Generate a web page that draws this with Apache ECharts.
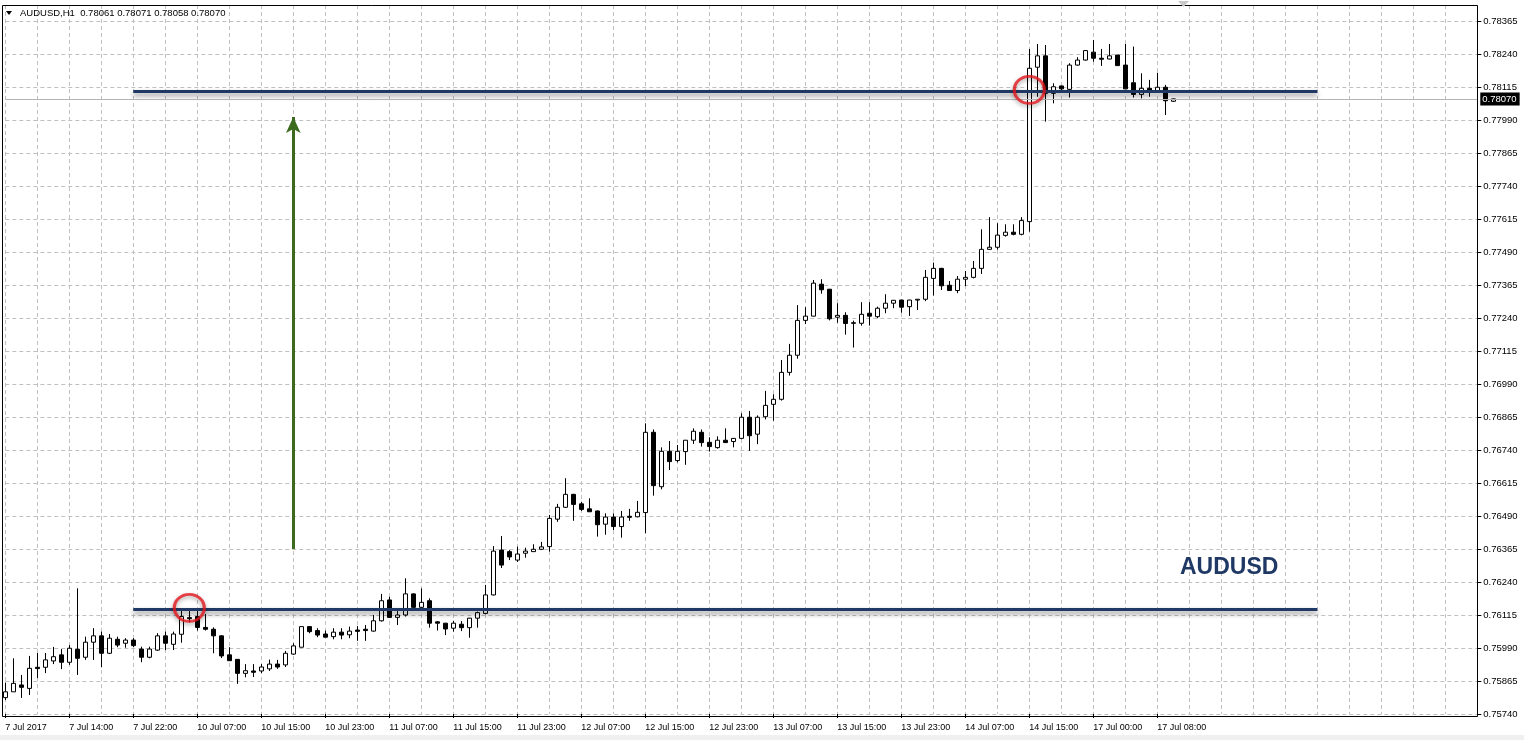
<!DOCTYPE html>
<html><head><meta charset="utf-8">
<script src="https://cdn.jsdelivr.net/npm/echarts@6/dist/echarts.min.js"></script>
<style>html,body{margin:0;padding:0;background:#fff}#c{width:1524px;height:740px}</style>
</head><body><div id="c"></div>
<script>
// ---- data ----
const symbolTitle = 'AUDUSD,H1';
const sessions = [['7 Jul',6,22],['10 Jul',0,23],['11 Jul',0,23],['12 Jul',0,23],['13 Jul',0,23],['14 Jul',0,22],['17 Jul',0,10]];
const firstTickLabel = '7 Jul 2017';
const open = [0.75802,0.75824,0.75850,0.75837,0.75917,0.75917,0.75941,0.75964,0.75936,0.75985,
0.75955,0.76012,0.76036,0.75970,0.76023,0.76008,0.76020,0.75986,0.75955,0.75982,
0.76036,0.76004,0.76042,0.76105,0.76109,0.76068,0.76061,0.76036,0.75964,0.75947,
0.75894,0.75903,0.75903,0.75911,0.75929,0.75926,0.75967,0.75993,0.76071,0.76056,
0.76043,0.76033,0.76050,0.76040,0.76058,0.76061,0.76054,0.76093,0.76172,0.76106,
0.76115,0.76195,0.76144,0.76169,0.76089,0.76084,0.76065,0.76080,0.76067,0.76103,
0.76121,0.76191,0.76361,0.76355,0.76323,0.76349,0.76355,0.76364,0.76374,0.76478,
0.76523,0.76572,0.76536,0.76517,0.76509,0.76459,0.76486,0.76450,0.76489,0.76487,
0.76503,0.76807,0.76601,0.76735,0.76700,0.76734,0.76777,0.76807,0.76769,0.76749,
0.76777,0.76772,0.76784,0.76864,0.76800,0.76866,0.76913,0.76932,0.77034,0.77099,
0.77231,0.77247,0.77368,0.77349,0.77243,0.77250,0.77222,0.77220,0.77258,0.77245,
0.77277,0.77296,0.77308,0.77283,0.77308,0.77311,0.77390,0.77428,0.77364,0.77344,
0.77387,0.77394,0.77428,0.77500,0.77508,0.77553,0.77565,0.77557,0.77605,0.78190,
0.78233,0.78091,0.78119,0.78106,0.78198,0.78217,0.78247,0.78224,0.78221,0.78236,
0.78198,0.78131,0.78087,0.78110,0.78095,0.78114,0.78061];
const close = [0.75824,0.75856,0.75841,0.75913,0.75912,0.75945,0.75957,0.75936,0.75989,0.75951,
0.76012,0.76036,0.75970,0.76027,0.76001,0.76020,0.75999,0.75955,0.75986,0.76036,
0.76008,0.76043,0.76109,0.76101,0.76068,0.76061,0.76036,0.75960,0.75942,0.75894,
0.75904,0.75898,0.75918,0.75929,0.75918,0.75970,0.75998,0.76071,0.76052,0.76039,
0.76031,0.76050,0.76039,0.76054,0.76053,0.76056,0.76093,0.76169,0.76106,0.76115,
0.76195,0.76144,0.76163,0.76084,0.76084,0.76062,0.76084,0.76067,0.76103,0.76124,
0.76191,0.76357,0.76304,0.76335,0.76346,0.76357,0.76364,0.76373,0.76481,0.76523,
0.76572,0.76534,0.76515,0.76506,0.76457,0.76486,0.76450,0.76486,0.76485,0.76504,
0.76807,0.76605,0.76735,0.76696,0.76735,0.76777,0.76811,0.76768,0.76753,0.76777,
0.76768,0.76784,0.76864,0.76794,0.76864,0.76909,0.76932,0.77034,0.77099,0.77231,
0.77247,0.77372,0.77347,0.77237,0.77250,0.77219,0.77220,0.77254,0.77247,0.77277,
0.77296,0.77307,0.77281,0.77308,0.77311,0.77394,0.77428,0.77362,0.77344,0.77387,
0.77394,0.77428,0.77500,0.77508,0.77554,0.77565,0.77557,0.77609,0.78186,0.78233,
0.78091,0.78116,0.78108,0.78198,0.78217,0.78253,0.78224,0.78220,0.78233,0.78196,
0.78108,0.78087,0.78110,0.78095,0.78114,0.78063,0.78070];
const low = [0.75793,0.75824,0.75801,0.75812,0.75876,0.75895,0.75929,0.75910,0.75926,0.75888,
0.75945,0.75945,0.75917,0.75967,0.75993,0.75991,0.75993,0.75936,0.75951,0.75979,
0.75982,0.75982,0.76010,0.76087,0.76056,0.76056,0.75970,0.75952,0.75942,0.75854,
0.75879,0.75880,0.75895,0.75903,0.75911,0.75918,0.75964,0.75993,0.76046,0.76031,
0.76031,0.76023,0.76023,0.76027,0.76017,0.76017,0.76052,0.76090,0.76106,0.76077,
0.76109,0.76142,0.76138,0.76067,0.76056,0.76039,0.76052,0.76054,0.76029,0.76067,
0.76118,0.76189,0.76293,0.76323,0.76316,0.76332,0.76354,0.76361,0.76355,0.76468,
0.76521,0.76472,0.76509,0.76506,0.76412,0.76419,0.76437,0.76408,0.76472,0.76485,
0.76425,0.76567,0.76591,0.76664,0.76693,0.76684,0.76763,0.76753,0.76734,0.76745,
0.76767,0.76750,0.76781,0.76737,0.76762,0.76856,0.76851,0.76927,0.77022,0.77086,
0.77217,0.77246,0.77332,0.77231,0.77222,0.77177,0.77128,0.77211,0.77211,0.77239,
0.77258,0.77277,0.77260,0.77248,0.77270,0.77304,0.77325,0.77346,0.77343,0.77334,
0.77361,0.77390,0.77407,0.77499,0.77499,0.77548,0.77553,0.77553,0.77567,0.78078,
0.77984,0.78053,0.78097,0.78075,0.78196,0.78215,0.78211,0.78195,0.78220,0.78195,
0.78107,0.78075,0.78072,0.78078,0.78094,0.78009,0.78058];
const high = [0.75859,0.75951,0.75888,0.75960,0.75971,0.75971,0.75994,0.75986,0.76001,0.76216,
0.76033,0.76065,0.76052,0.76043,0.76033,0.76027,0.76027,0.75995,0.75995,0.76046,
0.76052,0.76052,0.76137,0.76134,0.76134,0.76119,0.76068,0.76038,0.75993,0.75947,
0.75929,0.75929,0.75929,0.75946,0.75945,0.75979,0.76008,0.76071,0.76072,0.76065,
0.76056,0.76065,0.76065,0.76071,0.76073,0.76077,0.76115,0.76195,0.76184,0.76134,
0.76254,0.76197,0.76216,0.76178,0.76092,0.76085,0.76093,0.76092,0.76104,0.76128,
0.76229,0.76376,0.76414,0.76361,0.76374,0.76370,0.76383,0.76392,0.76494,0.76536,
0.76633,0.76574,0.76544,0.76557,0.76511,0.76500,0.76500,0.76509,0.76517,0.76547,
0.76841,0.76818,0.76750,0.76774,0.76759,0.76778,0.76822,0.76818,0.76788,0.76792,
0.76822,0.76785,0.76879,0.76888,0.76871,0.76964,0.76951,0.77081,0.77142,0.77289,
0.77281,0.77384,0.77387,0.77350,0.77296,0.77262,0.77230,0.77300,0.77300,0.77283,
0.77330,0.77308,0.77309,0.77309,0.77312,0.77422,0.77450,0.77430,0.77380,0.77399,
0.77418,0.77456,0.77576,0.77622,0.77599,0.77595,0.77595,0.77622,0.78259,0.78278,
0.78274,0.78129,0.78120,0.78205,0.78228,0.78255,0.78293,0.78259,0.78278,0.78237,
0.78278,0.78268,0.78167,0.78142,0.78169,0.78123,0.78071];
const headerQuote = [0.78061, 0.78071, 0.78058, 0.78070];
const bidPrice = 0.78070;
const levelLines = [{price: 0.78100, fromBar: 16, toBar: 164}, {price: 0.76136, fromBar: 16, toBar: 164}];
const arrowMove = {bar: 36, fromPrice: 0.76365, toPrice: 0.78001};
const touchCircles = [[23, 0.76142], [128, 0.78104]];
const watermark = 'AUDUSD';
const TOTAL_SLOTS = 185;
const BASE = 0.7574, STEP = 0.00125;   // lowest grid price and grid step
const Y_MAX = 0.784256;

// ---- build ----
const categories = [];
sessions.forEach(([d, h0, h1]) => { for (let h = h0; h <= h1; h++) categories.push(d + ' ' + String(h).padStart(2, '0') + ':00'); });
const nBars = categories.length;
while (categories.length < TOTAL_SLOTS) categories.push('');
const candleData = open.map((o, i) => [o - BASE, close[i] - BASE, low[i] - BASE, high[i] - BASE]);
const labelShown = (i, v) => i % 8 === 0 && i < nBars;
const FONT = '"Liberation Sans", Arial, sans-serif';
const navy = '#1f3864';

const chart = echarts.init(document.getElementById('c'), null, {renderer: 'canvas', devicePixelRatio: 1});
const mlData = [];
levelLines.forEach(l => mlData.push([
  {coord: [l.fromBar, l.price - BASE], lineStyle: {color: navy, width: 3, type: 'solid', shadowColor: 'rgba(0,0,0,0.45)', shadowBlur: 5, shadowOffsetY: 3}},
  {coord: [l.toBar, l.price - BASE]}
]));
mlData.push([
  {coord: [arrowMove.bar, arrowMove.fromPrice - BASE], symbol: 'none', lineStyle: {color: '#3c6b1e', width: 3, type: 'solid'}},
  {coord: [arrowMove.bar, arrowMove.toPrice - BASE], symbol: 'arrow', symbolSize: [11, 16]}
]);
mlData.push([
  {coord: [0, bidPrice - BASE], lineStyle: {color: '#b4b4b4', width: 1, type: 'solid'}},
  {coord: [TOTAL_SLOTS - 1, bidPrice - BASE],
   label: {show: true, position: 'end', distance: 3, formatter: bidPrice.toFixed(5), backgroundColor: '#000', color: '#fff',
    fontFamily: FONT, fontSize: 9.5, padding: [2, 3, 1, 2]}}
]);

chart.setOption({
  animation: false,
  backgroundColor: '#fff',
  grid: {left: 5.3, right: 46.7, top: 5, bottom: 26, containLabel: false},
  xAxis: {
    type: 'category', data: categories, boundaryGap: false, offset: 3,
    axisLine: {show: false},
    axisTick: {show: true, length: 4, interval: labelShown, lineStyle: {color: '#000'}},
    axisLabel: {interval: labelShown, align: 'left', margin: 6, color: '#000', fontFamily: FONT, fontSize: 9,
      formatter: (v, i) => i === 0 ? firstTickLabel : v},
    splitLine: {show: true, interval: 3, lineStyle: {color: '#c0c0c0', type: [4, 3], width: 1}}
  },
  yAxis: {
    type: 'value', position: 'right', min: 0, max: Y_MAX - BASE, interval: STEP,
    axisLine: {show: false},
    axisTick: {show: true, length: 4, lineStyle: {color: '#000'}},
    axisLabel: {margin: 6, color: '#000', fontFamily: FONT, fontSize: 9.5, showMinLabel: true, showMaxLabel: false,
      formatter: v => (v + BASE).toFixed(5)},
    splitLine: {show: true, lineStyle: {color: '#c0c0c0', type: [4, 3], width: 1}}
  },
  series: [
    {
      type: 'candlestick', data: candleData, barWidth: 4, clip: false, silent: true,
      itemStyle: {color: '#fff', color0: '#000', borderColor: '#000', borderColor0: '#000', borderWidth: 1},
      markLine: {silent: true, symbol: ['none', 'none'], animation: false, label: {show: false}, data: mlData}
    },
    {
      type: 'scatter', silent: true, z: 5,
      data: touchCircles.map(([b, p]) => [b, p - BASE]),
      symbol: 'circle', symbolSize: [30, 27],
      itemStyle: {color: 'rgba(0,0,0,0)', borderColor: '#e3161d', borderWidth: 3, shadowColor: 'rgba(0,0,0,0.4)', shadowBlur: 4, shadowOffsetY: 2}
    }
  ],
  graphic: [
    {type: 'rect', z: 100, shape: {x: 2.5, y: 5.5, width: 1475, height: 711}, style: {fill: 'none', stroke: '#000', lineWidth: 1}, silent: true},
    {type: 'polygon', z: 100, shape: {points: [[6, 11], [12, 11], [9, 15]]}, style: {fill: '#000'}, silent: true},
    {type: 'text', z: 100, left: 20, top: 8, style: {text: symbolTitle + '  ' + headerQuote.map(v => v.toFixed(5)).join(' '), fill: '#000', font: '9.5px ' + FONT}, silent: true},
    {type: 'polygon', z: 100, shape: {points: [[1178, 1], [1189, 1], [1183.5, 7]]}, style: {fill: '#c8c8c8'}, silent: true},
    {type: 'text', z: 100, left: 1180, top: 556, style: {text: watermark, fill: navy, font: 'bold 23px ' + FONT}, silent: true},
    {type: 'rect', z: 0, shape: {x: 0, y: 735, width: 1524, height: 5}, style: {fill: '#f0f0f0'}, silent: true}
  ]
});
</script></body></html>
